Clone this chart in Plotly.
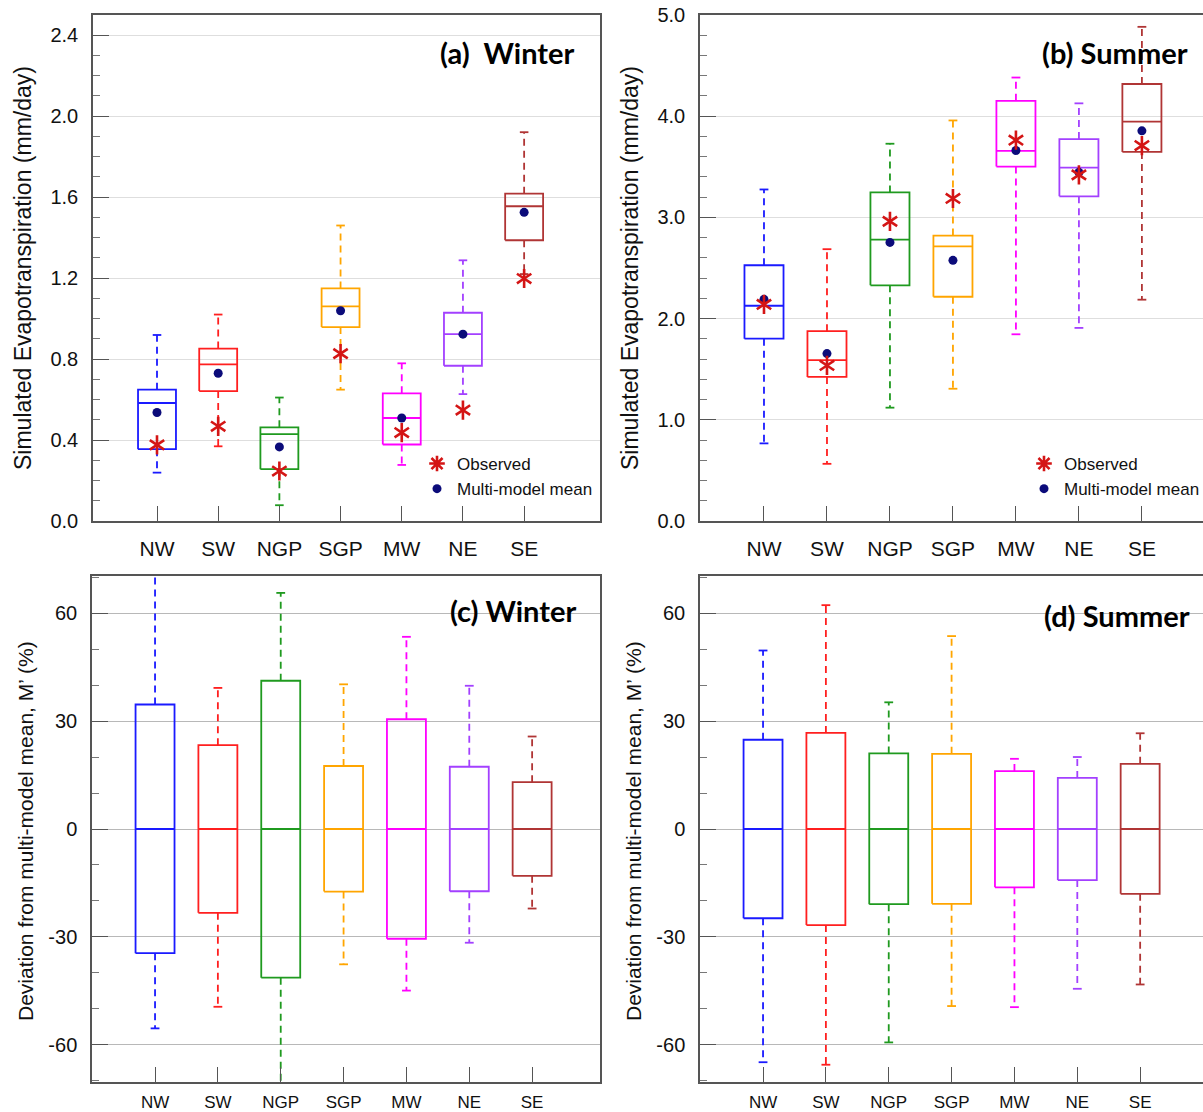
import plotly.graph_objects as go

# ---------------- data ----------------
regions = ["NW", "SW", "NGP", "SGP", "MW", "NE", "SE"]
colors = ["#1a1aff", "#ff1f1f", "#1f9a1f", "#ffa500", "#ff00ff", "#a340ff", "#b03535"]

# (a) Winter ET (mm/day)
a_upper = [0.919, 1.02, 0.610, 1.46, 0.779, 1.288, 1.921]
a_q3 = [0.649, 0.852, 0.463, 1.149, 0.631, 1.029, 1.617]
a_median = [0.583, 0.774, 0.429, 1.060, 0.509, 0.923, 1.555]
a_q1 = [0.355, 0.642, 0.256, 0.958, 0.378, 0.767, 1.387]
a_lower = [0.239, 0.369, 0.078, 0.649, 0.277, 0.627, 1.22]
a_mean = [0.536, 0.730, 0.366, 1.039, 0.509, 0.923, 1.525]
a_obs = [0.376, 0.468, 0.247, 0.827, 0.437, 0.548, 1.198]

# (b) Summer ET (mm/day)
b_upper = [3.276, 2.686, 3.728, 3.958, 4.382, 4.127, 4.883]
b_q3 = [2.527, 1.876, 3.247, 2.820, 4.152, 3.774, 4.318]
b_median = [2.127, 1.590, 2.781, 2.714, 3.657, 3.491, 3.947]
b_q1 = [1.802, 1.424, 2.329, 2.216, 3.502, 3.208, 3.647]
b_lower = [0.767, 0.565, 1.12, 1.307, 1.845, 1.908, 2.187]
b_mean = [2.19, 1.654, 2.753, 2.576, 3.661, 3.445, 3.855]
b_obs = [2.14, 1.537, 2.961, 3.187, 3.763, 3.42, 3.71]

# (c) Winter deviation (%)
c_upper = [75.0, 39.2, 65.6, 40.2, 53.4, 39.8, 25.7]
c_q3 = [34.6, 23.3, 41.2, 17.5, 30.5, 17.3, 13.0]
c_median = [0, 0, 0, 0, 0, 0, 0]
c_q1 = [-34.5, -23.3, -41.3, -17.4, -30.5, -17.3, -13.0]
c_lower = [-55.4, -49.4, -75.0, -37.6, -44.9, -31.6, -22.1]

# (d) Summer deviation (%)
d_upper = [49.6, 62.2, 35.2, 53.6, 19.5, 20.0, 26.6]
d_q3 = [24.8, 26.7, 21.0, 20.9, 16.1, 14.2, 18.1]
d_median = [0, 0, 0, 0, 0, 0, 0]
d_q1 = [-24.8, -26.7, -20.9, -20.8, -16.2, -14.2, -18.0]
d_lower = [-64.8, -65.5, -59.3, -49.2, -49.5, -44.4, -43.2]

et_a_ticks = [0.0, 0.4, 0.8, 1.2, 1.6, 2.0, 2.4]
et_b_ticks = [0.0, 1.0, 2.0, 3.0, 4.0, 5.0]
dev_ticks = [-60, -30, 0, 30, 60]
dev_tick_labels = ["-60", "-30", "0", "30", "60"]

# ---------------- style ----------------
W, H = 1203, 1112
BOX_HALF = 0.31
CAP_HALF = 0.07
FONT = "Liberation Sans"
OBS_COLOR = "#d41515"
MEAN_COLOR = "#0b0b7a"

fig = go.Figure()


def add_boxes(xa, ya, lower, q1, med, q3, upper, mean=None, obs=None):
    for i, col in enumerate(colors):
        xc = i + 1
        fig.add_trace(go.Scatter(
            x=[xc - BOX_HALF, xc + BOX_HALF, xc + BOX_HALF, xc - BOX_HALF, xc - BOX_HALF, None,
               xc - BOX_HALF, xc + BOX_HALF],
            y=[q1[i], q1[i], q3[i], q3[i], q1[i], None, med[i], med[i]],
            mode="lines", line=dict(color=col, width=1.8),
            xaxis=xa, yaxis=ya, showlegend=False, hoverinfo="skip"))
        fig.add_trace(go.Scatter(
            x=[xc, xc, None, xc, xc],
            y=[q3[i], upper[i], None, q1[i], lower[i]],
            mode="lines", line=dict(color=col, width=1.8, dash="7px,5px"),
            xaxis=xa, yaxis=ya, showlegend=False, hoverinfo="skip"))
        fig.add_trace(go.Scatter(
            x=[xc - CAP_HALF, xc + CAP_HALF, None, xc - CAP_HALF, xc + CAP_HALF],
            y=[upper[i], upper[i], None, lower[i], lower[i]],
            mode="lines", line=dict(color=col, width=1.8),
            xaxis=xa, yaxis=ya, showlegend=False, hoverinfo="skip"))
    xs = list(range(1, len(regions) + 1))
    if mean is not None:
        fig.add_trace(go.Scatter(
            x=xs, y=mean, mode="markers",
            marker=dict(symbol="circle", size=9, color=MEAN_COLOR),
            xaxis=xa, yaxis=ya, showlegend=False, name="Multi-model mean"))
    if obs is not None:
        for sym in ["y-up-open", "y-down-open"]:
            fig.add_trace(go.Scatter(
                x=xs, y=obs, mode="markers",
                marker=dict(symbol=sym, size=12, color=OBS_COLOR,
                            line=dict(color=OBS_COLOR, width=2.6)),
                xaxis=xa, yaxis=ya, showlegend=False, name="Observed"))


add_boxes("x", "y", a_lower, a_q1, a_median, a_q3, a_upper, a_mean, a_obs)
add_boxes("x2", "y2", b_lower, b_q1, b_median, b_q3, b_upper, b_mean, b_obs)
add_boxes("x3", "y3", c_lower, c_q1, c_median, c_q3, c_upper)
add_boxes("x4", "y4", d_lower, d_q1, d_median, d_q3, d_upper)

for lg, xa, ya in [("legend", "x", "y"), ("legend2", "x2", "y2")]:
    fig.add_trace(go.Scatter(
        x=[None], y=[None], mode="markers", name="Observed",
        marker=dict(symbol="asterisk-open", size=13, color=OBS_COLOR,
                    line=dict(color=OBS_COLOR, width=2.6)),
        xaxis=xa, yaxis=ya, legend=lg, showlegend=True))
    fig.add_trace(go.Scatter(
        x=[None], y=[None], mode="markers", name="Multi-model mean",
        marker=dict(symbol="circle", size=9, color=MEAN_COLOR),
        xaxis=xa, yaxis=ya, legend=lg, showlegend=True))


def px_x(p):
    return p / W


def px_y(p):
    return 1 - p / H


AXC = "#555555"


def xaxis_cfg(domain, rng, font_size, anchor, standoff, mirror=True):
    return dict(
        domain=domain, range=rng, anchor=anchor, showgrid=False, zeroline=False,
        automargin=False,
        tickmode="array", tickvals=list(range(1, len(regions) + 1)), ticktext=regions,
        ticks="inside", ticklen=15, tickwidth=1.3, tickcolor=AXC,
        showline=True, linecolor=AXC, linewidth=1.5, mirror=mirror,
        tickfont=dict(family=FONT, size=font_size, color="#111"),
        ticklabelstandoff=standoff, fixedrange=True)


def yaxis_cfg(domain, rng, tickvals, ticktext, minor_dtick, gridcolor, anchor, mirror=True):
    return dict(
        domain=domain, range=rng, anchor=anchor, zeroline=False,
        automargin=False,
        tickmode="array", tickvals=tickvals, ticktext=ticktext,
        ticks="inside", ticklen=16, tickwidth=1.3, tickcolor=AXC,
        showgrid=True, gridcolor=gridcolor, gridwidth=1,
        minor=dict(ticks="inside", ticklen=7, tickwidth=1.1, tickcolor="#777",
                   dtick=minor_dtick, tick0=0, showgrid=False),
        showline=True, linecolor=AXC, linewidth=1.5, mirror=mirror,
        tickfont=dict(family=FONT, size=20, color="#111"),
        ticklabelstandoff=9, fixedrange=True)


top_dom = [px_y(521), px_y(15)]
bot_dom = [px_y(1082), px_y(576)]
left_dom = [px_x(93), px_x(600)]
left_dom_c = [px_x(92), px_x(600)]
right_dom = [px_x(700), 1.0]

LEG_FONT = dict(family=FONT, size=17, color="#111")

fig.update_layout(
    width=W, height=H,
    margin=dict(l=0, r=0, t=0, b=0, autoexpand=False),
    paper_bgcolor="white", plot_bgcolor="white",
    xaxis=xaxis_cfg(left_dom, [-0.046, 8.24], 21, "y", 8),
    yaxis=yaxis_cfg(top_dom, [0, 2.5], et_a_ticks, [f"{v:.1f}" for v in et_a_ticks], 0.1, "#dedede", "x"),
    xaxis2=xaxis_cfg(right_dom, [-0.016, 7.97], 21, "y2", 8),
    yaxis2=yaxis_cfg(top_dom, [0, 5.0], et_b_ticks, [f"{v:.1f}" for v in et_b_ticks], 0.2, "#dedede", "x2", mirror=False),
    xaxis3=xaxis_cfg(left_dom_c, [-0.003, 8.08], 17, "y3", 4),
    yaxis3=yaxis_cfg(bot_dom, [-70.3, 70.3], dev_ticks, dev_tick_labels, 10, "#b8b8b8", "x3"),
    xaxis4=xaxis_cfg(right_dom, [-0.003, 8.0], 17, "y4", 4),
    yaxis4=yaxis_cfg(bot_dom, [-70.3, 70.3], dev_ticks, dev_tick_labels, 10, "#b8b8b8", "x4", mirror=False),
    legend=dict(x=px_x(417), y=px_y(446), xanchor="left", yanchor="top",
                bgcolor="rgba(0,0,0,0)", font=LEG_FONT, itemsizing="trace", tracegroupgap=0),
    legend2=dict(x=px_x(1024), y=px_y(446), xanchor="left", yanchor="top",
                 bgcolor="rgba(0,0,0,0)", font=LEG_FONT, itemsizing="trace", tracegroupgap=0),
    showlegend=True,
)

TITLE_FONT = dict(family="Lato", size=29, color="black", weight="bold")
panel_titles = [
    ("(a)  Winter", 577, 52),
    ("(b) Summer", 1190, 52),
    ("(c) Winter", 578, 610),
    ("(d) Summer", 1192, 615),
]
for txt, xr, yc in panel_titles:
    fig.add_annotation(text=txt, xref="paper", yref="paper", x=px_x(xr), y=px_y(yc),
                       xanchor="right", yanchor="middle", showarrow=False, font=TITLE_FONT)

axis_titles = [
    ("Simulated Evapotranspiration (mm/day)", 23, 268, 23),
    ("Simulated Evapotranspiration (mm/day)", 630, 268, 23),
    ("Deviation from multi-model mean, M’ (%)", 25, 831, 21),
    ("Deviation from multi-model mean, M’ (%)", 633, 831, 21),
]
for txt, xc, yc, fs in axis_titles:
    fig.add_annotation(text=txt, xref="paper", yref="paper", x=px_x(xc), y=px_y(yc),
                       xanchor="center", yanchor="middle", textangle=-90, showarrow=False,
                       font=dict(family=FONT, size=fs, color="#111"))

fig.write_html("out.html", config={"displayModeBar": False},
               post_script="document.body.style.margin='0px';")
